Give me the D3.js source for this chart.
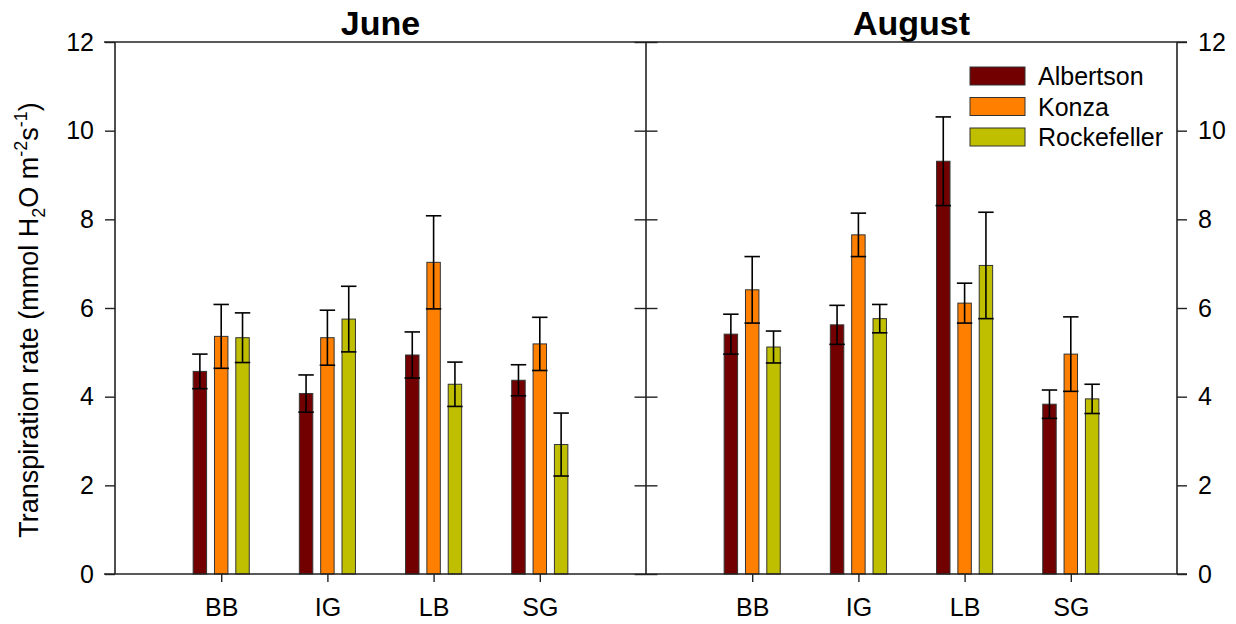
<!DOCTYPE html>
<html>
<head>
<meta charset="utf-8">
<script src="https://cdn.jsdelivr.net/npm/d3@7"></script>
<style>
  body { margin: 0; background: #fff; }
  text { font-family: Arial, "Liberation Sans", sans-serif; fill: #000; }
</style>
</head>
<body>
<div id="chart"></div>
<script>
// data
const species = ["BB", "IG", "LB", "SG"];
const sites = ["Albertson", "Konza", "Rockefeller"];
const months = ["June", "August"];
const yTicks = [0, 2, 4, 6, 8, 10, 12];

const juneAlbertson = [4.57, 4.07, 4.94, 4.37];
const juneKonza = [5.36, 5.33, 7.03, 5.19];
const juneRockefeller = [5.33, 5.75, 4.28, 2.92];
const juneAlbertsonSE = [0.39, 0.42, 0.52, 0.35];
const juneKonzaSE = [0.72, 0.62, 1.05, 0.60];
const juneRockefellerSE = [0.56, 0.74, 0.50, 0.71];

const augAlbertson = [5.41, 5.62, 9.31, 3.83];
const augKonza = [6.41, 7.65, 6.11, 4.96];
const augRockefeller = [5.12, 5.76, 6.96, 3.95];
const augAlbertsonSE = [0.45, 0.44, 1.00, 0.32];
const augKonzaSE = [0.75, 0.49, 0.45, 0.84];
const augRockefellerSE = [0.36, 0.32, 1.20, 0.33];

const colors = ["#730000", "#ff8000", "#bfbf00"];

// build rows for drawing
const monthData = [
  [juneAlbertson, juneKonza, juneRockefeller],
  [augAlbertson, augKonza, augRockefeller]
];
const monthSE = [
  [juneAlbertsonSE, juneKonzaSE, juneRockefellerSE],
  [augAlbertsonSE, augKonzaSE, augRockefellerSE]
];

const W = 1236, H = 624;
const margin = {top: 42, right: 59, bottom: 50, left: 115};
const width = W - margin.left - margin.right,
      height = H - margin.top - margin.bottom;
const panelW = width / 2;

const svg = d3.select("#chart")
  .append("svg")
  .attr("width", W)
  .attr("height", H);

const g = svg.append("g")
  .attr("transform", `translate(${margin.left}, ${margin.top})`);

const y = d3.scaleLinear().domain([0, 12]).range([height, 0]);

const x = d3.scalePoint()
  .domain(species)
  .range([0, panelW])
  .padding(1);

const xSite = d3.scaleBand()
  .domain(sites)
  .range([-32, 32])
  .paddingInner(0.37)
  .paddingOuter(0.185);

const lineColor = "#222";
const fontSize = 25;

months.forEach(function(month, mi) {
  const panel = g.append("g")
    .attr("transform", `translate(${mi * panelW}, 0)`);

  const rows = [];
  species.forEach(function(sp, i) {
    sites.forEach(function(site, si) {
      rows.push({sp: sp, site: site, si: si,
        v: monthData[mi][si][i], se: monthSE[mi][si][i]});
    });
  });

  // bars
  panel.selectAll("rect.bar")
    .data(rows)
    .enter()
    .append("rect")
      .attr("class", "bar")
      .attr("x", d => x(d.sp) + xSite(d.site))
      .attr("y", d => y(d.v))
      .attr("width", xSite.bandwidth())
      .attr("height", d => y(0) - y(d.v))
      .attr("fill", d => colors[d.si])
      .attr("stroke", "#333")
      .attr("stroke-width", 1);

  // error bars
  const capW = xSite.bandwidth() + 2;
  const err = panel.selectAll("g.err")
    .data(rows)
    .enter()
    .append("g")
      .attr("class", "err")
      .attr("transform", d => `translate(${x(d.sp) + xSite(d.site) + xSite.bandwidth() / 2}, 0)`)
      .attr("stroke", "#000")
      .attr("stroke-width", 1.6);
  err.append("line")
    .attr("x1", 0).attr("x2", 0)
    .attr("y1", d => y(d.v - d.se))
    .attr("y2", d => y(d.v + d.se));
  err.append("line")
    .attr("x1", -capW / 2).attr("x2", capW / 2)
    .attr("y1", d => y(d.v + d.se)).attr("y2", d => y(d.v + d.se));
  err.append("line")
    .attr("x1", -capW / 2).attr("x2", capW / 2)
    .attr("y1", d => y(d.v - d.se)).attr("y2", d => y(d.v - d.se));

  // x axis
  const xAxis = panel.append("g")
    .attr("transform", `translate(0, ${height})`)
    .call(d3.axisBottom(x).tickSize(8).tickPadding(16));
  xAxis.select(".domain").remove();
  xAxis.selectAll("line").attr("stroke", lineColor).attr("stroke-width", 1.4);
  xAxis.selectAll("text")
    .style("font-size", fontSize + "px")
    .style("font-family", "Arial, 'Liberation Sans', sans-serif");

  // title
  panel.append("text")
    .attr("x", panelW / 2)
    .attr("y", -7)
    .attr("text-anchor", "middle")
    .style("font-size", "34px")
    .style("font-weight", "bold")
    .text(month);
});

// left axis
const leftAxis = g.append("g")
  .call(d3.axisLeft(y).tickValues(yTicks).tickSize(10).tickPadding(11));
leftAxis.select(".domain").remove();

// right axis
const rightAxis = g.append("g")
  .attr("transform", `translate(${width}, 0)`)
  .call(d3.axisRight(y).tickValues(yTicks).tickSize(10).tickPadding(11));
rightAxis.select(".domain").remove();

[leftAxis, rightAxis].forEach(function(a) {
  a.selectAll("line").attr("stroke", lineColor).attr("stroke-width", 1.4);
  a.selectAll("text")
    .style("font-size", fontSize + "px")
    .style("font-family", "Arial, 'Liberation Sans', sans-serif");
});

// middle divider ticks (both sides)
const midL = g.append("g")
  .attr("transform", `translate(${panelW}, 0)`)
  .call(d3.axisLeft(y).tickValues(yTicks).tickSize(11.5).tickFormat(""));
const midR = g.append("g")
  .attr("transform", `translate(${panelW}, 0)`)
  .call(d3.axisRight(y).tickValues(yTicks).tickSize(11.5).tickFormat(""));
[midL, midR].forEach(function(a) {
  a.select(".domain").remove();
  a.selectAll("line").attr("stroke", lineColor).attr("stroke-width", 1.4);
});

// frame lines
const frame = g.append("g")
  .attr("stroke", lineColor)
  .attr("stroke-width", 1.6);
[0, panelW, width].forEach(function(px) {
  frame.append("line")
    .attr("x1", px).attr("x2", px)
    .attr("y1", y(0)).attr("y2", y(12));
});
[0, 12].forEach(function(v) {
  frame.append("line")
    .attr("x1", -11).attr("x2", width + 10)
    .attr("y1", y(v)).attr("y2", y(v));
});

// legend
const legend = g.append("g")
  .attr("transform", `translate(${970 - margin.left}, ${67 - margin.top})`);
sites.forEach(function(site, i) {
  const row = legend.append("g")
    .attr("transform", `translate(0, ${i * 30.5})`);
  row.append("rect")
    .attr("width", 55)
    .attr("height", 18)
    .attr("fill", colors[i])
    .attr("stroke", "#333")
    .attr("stroke-width", 1);
  row.append("text")
    .attr("x", 68)
    .attr("y", 18)
    .style("font-size", fontSize + "px")
    .text(site);
});

// y label with sub/superscripts
const ylab = svg.append("text")
  .attr("transform", `translate(38, ${margin.top + height / 2 + 12}) rotate(-90)`)
  .attr("text-anchor", "middle")
  .style("font-size", "27px");
ylab.append("tspan").text("Transpiration rate (mmol H");
ylab.append("tspan").attr("dy", 7).style("font-size", "18px").text("2");
ylab.append("tspan").attr("dy", -7).text("O m");
ylab.append("tspan").attr("dy", -11).style("font-size", "18px").text("-2");
ylab.append("tspan").attr("dy", 11).text("s");
ylab.append("tspan").attr("dy", -11).style("font-size", "18px").text("-1");
ylab.append("tspan").attr("dy", 11).text(")");
</script>
</body>
</html>
